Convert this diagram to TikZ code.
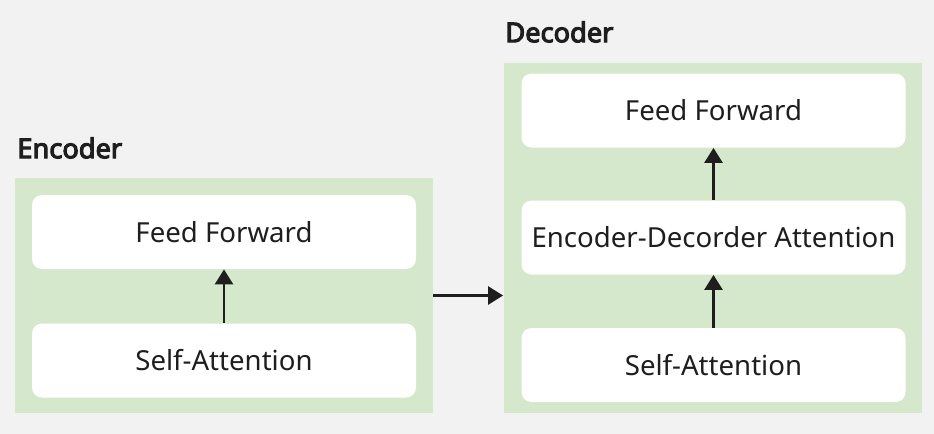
\documentclass[tikz,border=0pt]{standalone}
\usepackage{fontspec}
\setmainfont{Noto Sans}[AutoFakeBold=4]
\usetikzlibrary{positioning,arrows.meta}
\definecolor{bgray}{HTML}{F2F2F2}
\definecolor{pgreen}{HTML}{D5E8CC}
\definecolor{ink}{HTML}{1E1E1E}

\begin{document}
\begin{tikzpicture}[x=0.5pt,y=-0.5pt,font=\fontsize{13.8}{16}\selectfont,text=ink,
  pane/.style={fill=pgreen,inner sep=0pt,minimum width=209pt},
  layer/.style={fill=white,rounded corners=5pt,inner sep=0pt,minimum width=192pt,minimum height=37pt},
  title/.style={anchor=west,inner sep=0pt,font=\fontsize{13.6}{15}\selectfont\bfseries},
  flow/.style={-{Triangle[length=7.5pt,width=9pt]},line width=1.3pt,draw=ink}]
%background
\fill[bgray] (0,0) rectangle (934,434);
%encoder
\node[title] (enclab) at (17,148) {Encoder};
\node[pane,minimum height=117.5pt] (enc) at (224,295.5) {};
\node[layer] (encff) at (224,232) {Feed Forward};
\node[layer] (encsa) at (224,360.5) {Self-Attention};
\draw[flow] (encsa) -- (encff);
%decoder
\node[title] (declab) at (505,32) {Decoder};
\node[pane,minimum height=175pt] (dec) at (712.5,238) {};
\node[layer] (decff) at (713.5,110.5) {Feed Forward};
\node[layer] (deceda) at (713.5,237.5) {Encoder-Decorder Attention};
\node[layer] (decsa) at (713.5,365) {Self-Attention};
\draw[flow] (decsa) -- (deceda);
\draw[flow] (deceda) -- (decff);
%encoder to decoder
\draw[flow] (enc.east) -- (enc.east -| dec.west);
\end{tikzpicture}
\end{document}
